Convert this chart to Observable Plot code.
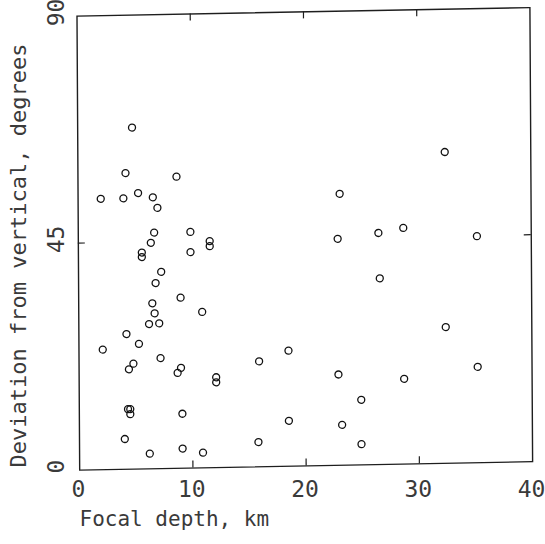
<!DOCTYPE html>
<html><head><meta charset="utf-8">
<script src="https://cdn.jsdelivr.net/npm/d3@7"></script>
<script src="https://cdn.jsdelivr.net/npm/@observablehq/plot@0.6"></script>
<style>
html,body{margin:0;padding:0;background:#fff;}
#chart svg{display:block;background:#fff;}
</style></head><body><div id="chart"></div>
<script>
// Data
const depthKm = [4.8, 32.4, 4.2, 8.7, 2.0, 4.0, 5.3, 6.6, 7.0, 23.1,
  6.7, 9.9, 6.4, 11.6, 11.6, 5.6, 5.6, 9.9, 22.9, 26.5,
  28.7, 35.2, 7.3, 6.8, 26.6, 9.0, 6.5, 10.9, 6.7, 6.2,
  7.1, 32.4, 4.2, 5.3, 2.1, 18.5, 7.2, 15.9, 4.8, 4.4,
  9.0, 8.7, 35.2, 22.9, 12.1, 12.1, 28.7, 24.9, 4.3, 4.5,
  4.5, 9.1, 18.5, 23.2, 4.0, 15.8, 24.9, 9.1, 6.2, 10.9];
const deviationDeg = [67.7, 61.7, 58.7, 57.8, 53.7, 53.7, 54.7, 53.8, 51.7, 53.8,
  46.8, 46.8, 44.8, 44.9, 43.9, 42.9, 42.0, 42.8, 44.9, 45.9,
  46.8, 44.9, 39.0, 36.8, 36.9, 33.8, 32.8, 30.9, 30.8, 28.7,
  28.8, 27.0, 26.8, 24.8, 23.8, 22.9, 21.9, 20.9, 20.9, 19.8,
  19.9, 18.9, 19.0, 18.0, 17.9, 16.9, 16.9, 12.9, 11.9, 11.9,
  10.9, 10.8, 9.0, 8.0, 6.0, 4.9, 4.1, 3.9, 3.0, 3.0];
const xTickValues = [0, 10, 20, 30, 40];
const xTickLabels = ["0", "10", "20", "30", "40"];
const yTickValues = [0, 45, 90];
const yTickLabels = ["0", "45", "90"];
const xInnerTicks = [10, 20, 30];
const yInnerTicks = [45];
const xDomain = [0, 40];
const yDomain = [0, 90];
const xTitle = "Focal depth, km";
const yTitle = "Deviation from vertical, degrees";

const points = depthKm.map((d, i) => ({depth: d, deviation: deviationDeg[i]}));

const W = 545, H = 544, mL = 78, mR = 14, mT = 12, mB = 78;
const pxPerX = (W - mL - mR) / (xDomain[1] - xDomain[0]);
const pxPerY = (H - mT - mB) / (yDomain[1] - yDomain[0]);
const tickLen = 7;
const font = "'DejaVu Sans Mono', monospace";
const ink = "#3a3a3a";
const line = "#1e1e1e";

const chart = Plot.plot({
  width: W, height: H,
  marginLeft: mL, marginRight: mR, marginTop: mT, marginBottom: mB,
  style: {background: "#fff"},
  x: {domain: xDomain, axis: null},
  y: {domain: yDomain, axis: null},
  marks: [
    Plot.frame({stroke: line, strokeWidth: 1.4}),
    Plot.ruleX(xInnerTicks, {x: d => d, y1: yDomain[1], y2: yDomain[1] - tickLen / pxPerY, stroke: line, strokeWidth: 1.2}),
    Plot.ruleX(xInnerTicks, {x: d => d, y1: yDomain[0], y2: yDomain[0] + tickLen / pxPerY, stroke: line, strokeWidth: 1.2}),
    Plot.ruleY(yInnerTicks, {y: d => d, x1: xDomain[0], x2: xDomain[0] + tickLen / pxPerX, stroke: line, strokeWidth: 1.2}),
    Plot.ruleY(yInnerTicks, {y: d => d, x1: xDomain[1], x2: xDomain[1] - tickLen / pxPerX, stroke: line, strokeWidth: 1.2}),
    Plot.dot(points, {x: "depth", y: "deviation", r: 3.5, stroke: "#111", strokeWidth: 1.3, fill: "none"}),
    Plot.text(xTickValues, {x: d => d, text: (d, i) => xTickLabels[i], frameAnchor: "bottom", dy: 30,
      textAnchor: "middle", fontSize: 23, fontFamily: font, fill: ink}),
    Plot.text(yTickValues, {y: d => d, text: (d, i) => yTickLabels[i], frameAnchor: "left", dx: -22, rotate: -90,
      textAnchor: "middle", fontSize: 23, fontFamily: font, fill: ink}),
    Plot.text([xTitle], {text: d => d, frameAnchor: "bottom-left", textAnchor: "start", dx: 1, dy: 59,
      fontSize: 21, fontFamily: font, fill: ink}),
    Plot.text([yTitle], {text: d => d, frameAnchor: "left", rotate: -90, dx: -60, dy: 16,
      textAnchor: "middle", fontSize: 22, fontFamily: font, fill: ink})
  ]
});

// The scanned original's plotting frame is slightly rotated/sheared; mimic that on the frame, ticks and dots.
const svg = d3.select(chart);
const cx = W / 2, cy = H / 2;
const wrap = svg.insert("g", ":scope > [aria-label]")
  .attr("transform", `translate(${cx} ${cy}) rotate(-1.07) skewX(-0.73) translate(${-cx} ${-cy})`);
svg.selectAll(':scope > [aria-label="frame"], :scope > [aria-label="rule"], :scope > [aria-label="dot"]')
  .each(function () { wrap.node().appendChild(this); });

document.getElementById("chart").appendChild(chart);
</script>
</body></html>
